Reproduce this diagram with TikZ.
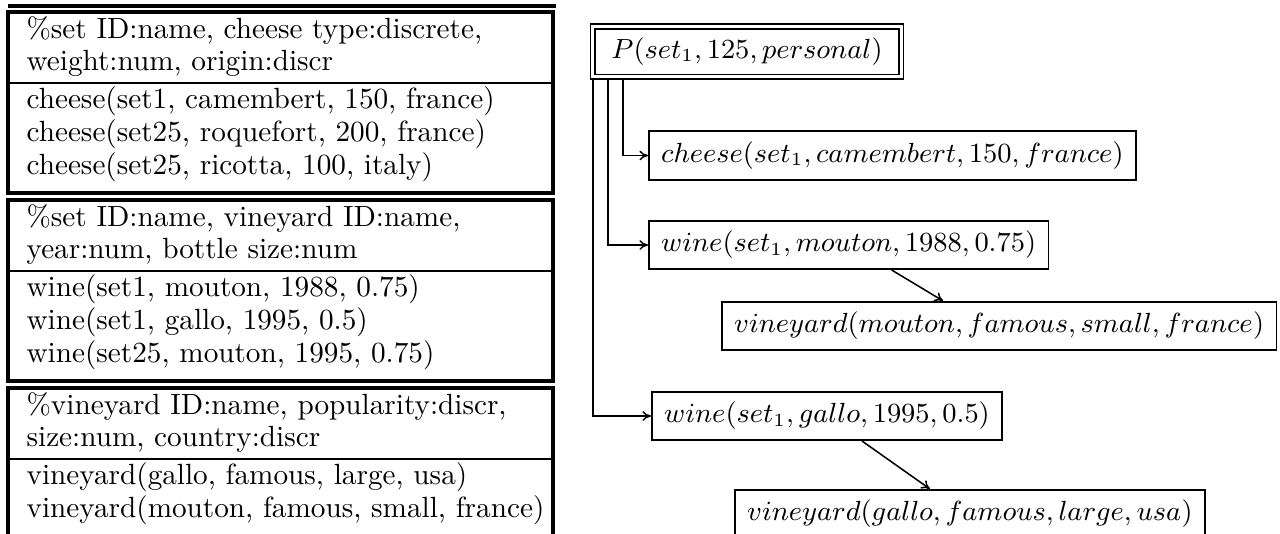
\documentclass[tikz,border=0pt]{standalone}
\usetikzlibrary{positioning}
\usetikzlibrary{calc}
\usetikzlibrary{arrows.meta}

\begin{document}
\begin{tikzpicture}
			[
				x = 0.325pt, y = -0.325pt,
				entry/.style = {anchor = base west, inner sep = 0pt, font = \fontsize{9.5}{11}\selectfont},
				frame/.style = {line width = 1.1pt},
				rule/.style = {line width = 0.6pt},
				fact/.style = {rectangle, draw, line width = 0.6pt, minimum height = 14.8pt, inner xsep = 4pt, font = \fontsize{9.2}{11}\selectfont},
				query/.style = {fact, double, double distance = 1pt, minimum height = 16.5pt, inner xsep = 6pt},
				link/.style = {-{To[length = 2.8pt, width = 3.2pt]}, line width = 0.5pt},
			]
			\useasboundingbox (0,0) rectangle (1280,533);
			\clip (0,0) rectangle (1280,533);
			\draw [frame] (8,6) -- (556,6);
			\draw [frame] (8,12) rectangle (553,193);
			\draw [rule] (8,83) -- (553,83);
			\node (cheeseHead1) [entry] at (26,38) {\%set ID:name, cheese type:discrete,};
			\node (cheeseHead2) [entry] at (26,70) {weight:num, origin:discr};
			\node (cheeseRow1) [entry] at (26,108) {cheese(set1, camembert, 150, france)};
			\node (cheeseRow2) [entry] at (26,141) {cheese(set25, roquefort, 200, france)};
			\node (cheeseRow3) [entry] at (26,174) {cheese(set25, ricotta, 100, italy)};
			\draw [frame] (8,200) rectangle (553,381);
			\draw [rule] (8,271) -- (553,271);
			\node (wineHead1) [entry] at (26,226) {\%set ID:name, vineyard ID:name,};
			\node (wineHead2) [entry] at (26,258) {year:num, bottle size:num};
			\node (wineRow1) [entry] at (26,296) {wine(set1, mouton, 1988, 0.75)};
			\node (wineRow2) [entry] at (26,329) {wine(set1, gallo, 1995, 0.5)};
			\node (wineRow3) [entry] at (26,362) {wine(set25, mouton, 1995, 0.75)};
			\draw [frame] (8,388) rectangle (553,569);
			\draw [rule] (8,459) -- (553,459);
			\node (vinHead1) [entry] at (26,414) {\%vineyard ID:name, popularity:discr,};
			\node (vinHead2) [entry] at (26,446) {size:num, country:discr};
			\node (vinRow1) [entry] at (26,484) {vineyard(gallo, famous, large, usa)};
			\node (vinRow2) [entry] at (26,517) {vineyard(mouton, famous, small, france)};
			\node (P) [query, anchor = west] at (592,51.5) {$P(set_1, 125, personal)$};
			\node (cheeseFact) [fact, anchor = west] at (648,155.5) {$cheese(set_1, camembert, 150, france)$};
			\node (wineA) [fact, anchor = west] at (648,245) {$wine(set_1, mouton, 1988, 0.75)$};
			\node (vinA) [fact, anchor = west] at (721,326) {$vineyard(mouton, famous, small, france)$};
			\node (wineB) [fact, anchor = west] at (651,416) {$wine(set_1, gallo, 1995, 0.5)$};
			\node (vinB) [fact, anchor = west] at (734,514) {$vineyard(gallo, famous, large, usa)$};
			\draw [link] ($(P.south west)+(31,0)$) |- (cheeseFact.west);
			\draw [link] ($(P.south west)+(16,0)$) |- (wineA.west);
			\draw [link] ($(P.south west)+(1,0)$) |- (wineB.west);
			\draw [link] ($(wineA.south)+(43,0)$) -- ($(vinA.north)+(-56,0)$);
			\draw [link] ($(wineB.south)+(35,0)$) -- ($(vinB.north)+(-40,0)$);
		\end{tikzpicture}
\end{document}
